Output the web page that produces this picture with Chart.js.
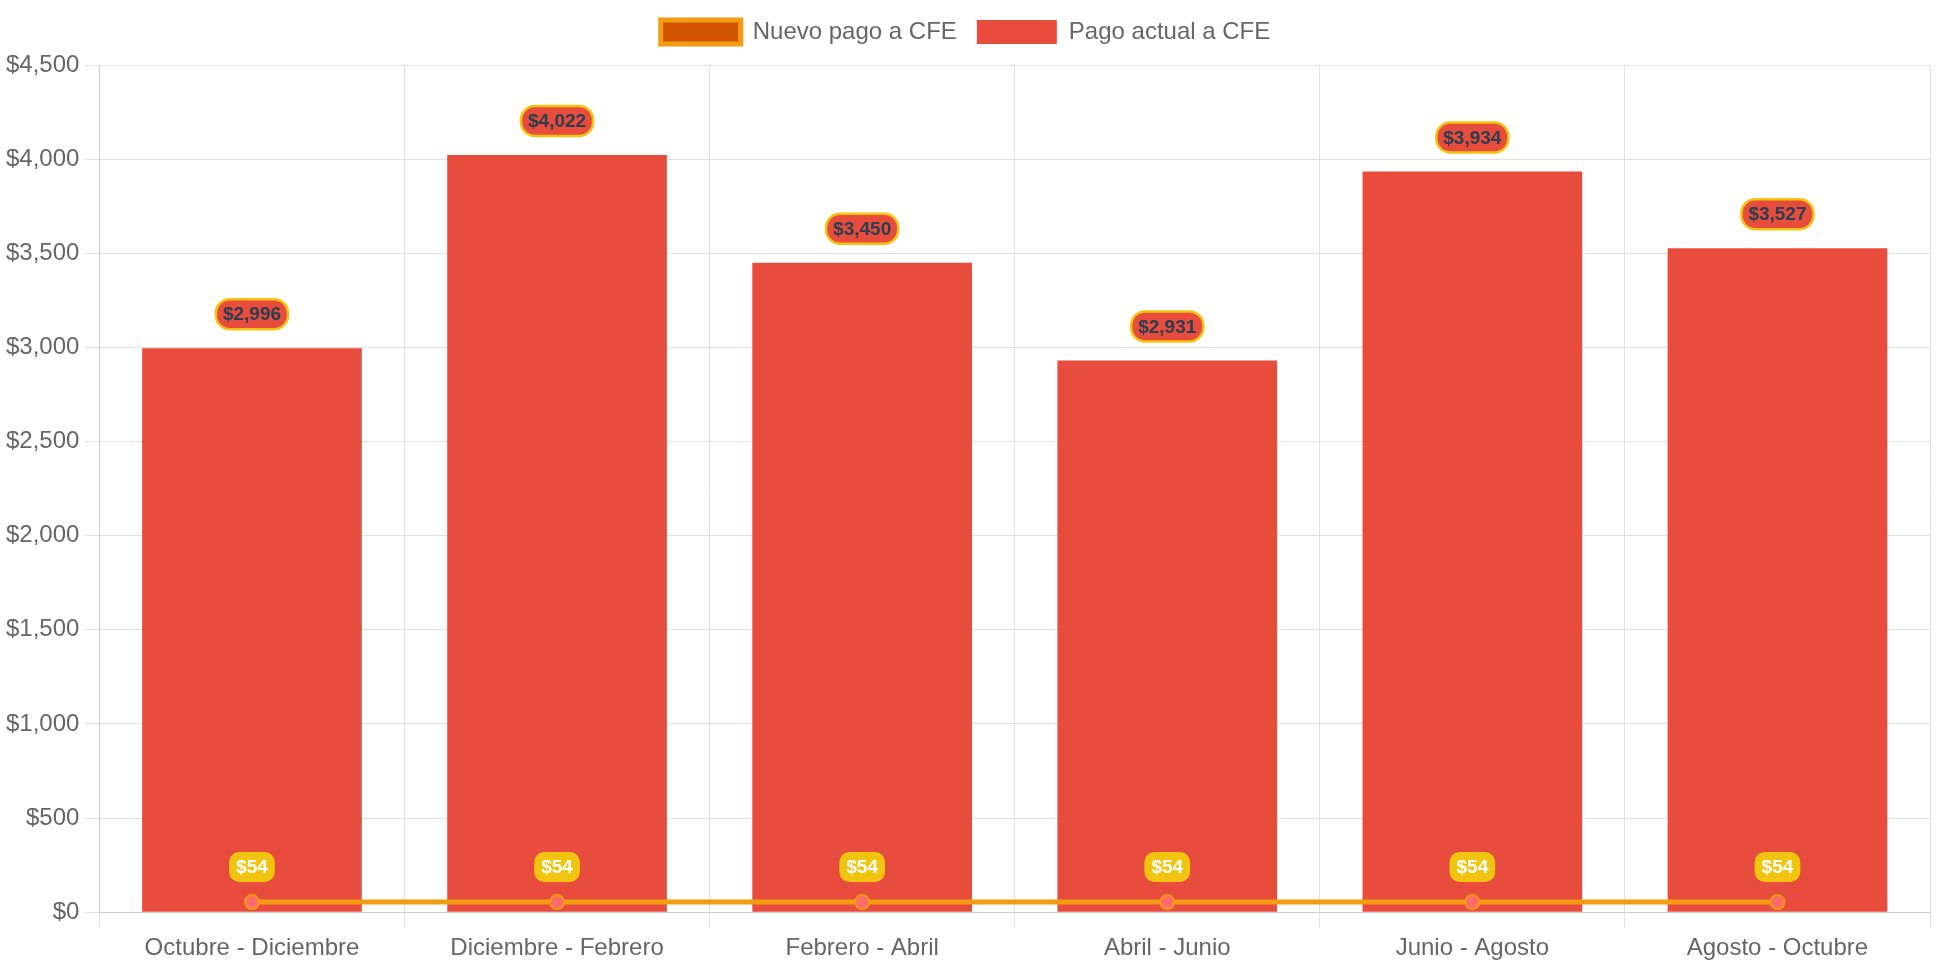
<!DOCTYPE html>
<html>
<head>
<meta charset="utf-8">
<script src="https://cdn.jsdelivr.net/npm/chart.js@4.4.1/dist/chart.umd.min.js"></script>
<style>
  html, body { margin: 0; padding: 0; background: #fff; }
  #wrap { width: 1942px; height: 970px; }
</style>
</head>
<body>
<div id="wrap"><canvas id="myChart"></canvas></div>
<script>
let LABELS = ['Octubre - Diciembre', 'Diciembre - Febrero', 'Febrero - Abril', 'Abril - Junio', 'Junio - Agosto', 'Agosto - Octubre']
let NUEVO = [54, 54, 54, 54, 54, 54]
let ACTUAL = [2996, 4022, 3450, 2931, 3934, 3527]

let money = (v) => '$' + Number(v).toLocaleString('en-US')

// draws the little pill labels over each point / bar
let valueLabels = {
    id: 'valueLabels',
    afterDatasetsDraw(chart) {
        let c = chart.ctx
        chart.data.datasets.forEach((ds, i) => {
            let meta = chart.getDatasetMeta(i)
            meta.data.forEach((el, j) => {
                let txt = money(ds.data[j])
                c.save()
                c.font = 'bold 19px "Liberation Sans", Arial, sans-serif'
                let w = c.measureText(txt).width + 14
                let h = 30
                let x = el.x - w / 2
                let y = el.y - (ds.type === 'line' ? 35 : 34) - h / 2
                c.beginPath()
                c.roundRect(x, y, w, h, ds.type === 'line' ? 10 : 14)
                if (ds.type === 'line') {
                    c.fillStyle = '#F1C40F'
                    c.fill()
                    c.fillStyle = '#ffffff'
                } else {
                    c.fillStyle = '#E74C3C'
                    c.fill()
                    c.lineWidth = 2.5
                    c.strokeStyle = '#F1C40F'
                    c.stroke()
                    c.fillStyle = '#2C3E50'
                }
                c.textAlign = 'center'
                c.textBaseline = 'middle'
                c.fillText(txt, el.x, y + h / 2 + 1)
                c.restore()
            })
        })
    }
}

// a bit more room under the legend
let legendGap = {
    id: 'legendGap',
    beforeInit(chart) {
        let fit = chart.legend.fit
        chart.legend.fit = function () {
            fit.bind(chart.legend)()
            this.height += 11
        }
    }
}

Chart.defaults.font.family = '"Liberation Sans", Arial, Helvetica, sans-serif'
Chart.defaults.color = '#666'

let ctx = document.getElementById('myChart')
let myChart = new Chart(ctx, {
    type: 'bar',
    data: {
        labels: LABELS,
        datasets: [{
            type: 'line',
            label: 'Nuevo pago a CFE',
            data: NUEVO,
            borderColor: '#F39C12',
            backgroundColor: '#D35400',
            borderWidth: 5,
            pointRadius: 7,
            pointBorderWidth: 2,
            pointBackgroundColor: '#FF6B6B',
            pointBorderColor: '#F39C12',
            fill: false,
            tension: 0
        },
        {
            type: 'bar',
            label: 'Pago actual a CFE',
            data: ACTUAL,
            backgroundColor: '#E74C3C',
            borderWidth: 0
        }]
    },
    options: {
        responsive: true,
        maintainAspectRatio: false,
        animation: false,
        layout: { padding: { left: 1, right: 12, top: 0, bottom: 0 } },
        plugins: {
            tooltip: { enabled: false },
            legend: {
                labels: {
                    boxWidth: 80,
                    boxHeight: 24,
                    padding: 20,
                    font: { size: 24 },
                    color: '#666'
                }
            }
        },
        scales: {
            x: {
                offset: true,
                grid: { offset: true, color: '#e0e0e0', tickLength: 15 },
                border: { color: '#cccccc' },
                ticks: { font: { size: 24 }, color: '#666', padding: 7 }
            },
            y: {
                min: 0,
                max: 4500,
                grid: { color: '#e0e0e0', tickLength: 15 },
                border: { color: '#cccccc' },
                ticks: {
                    stepSize: 500,
                    font: { size: 24 },
                    color: '#666',
                    padding: 5,
                    callback: (v) => money(v)
                }
            }
        }
    },
    plugins: [valueLabels, legendGap]
})
</script>
</body>
</html>
